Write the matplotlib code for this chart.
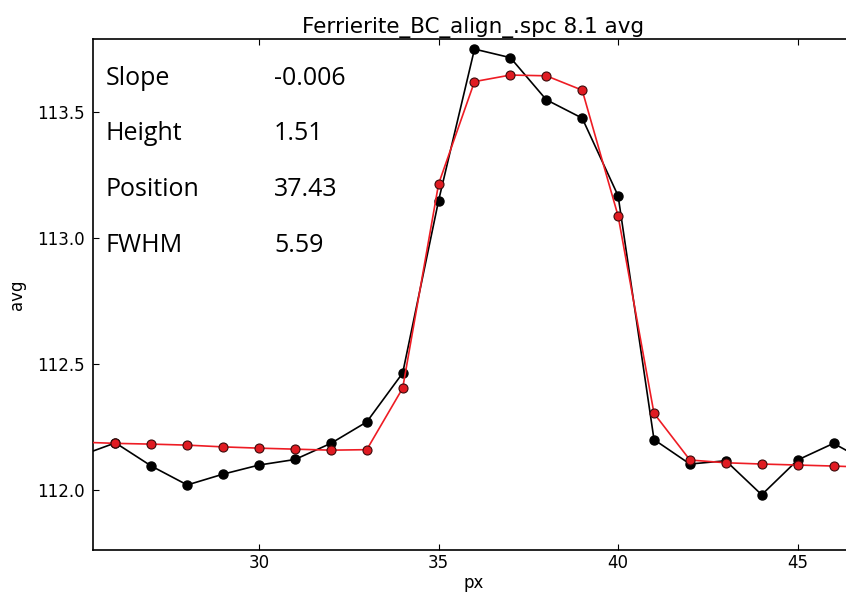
import matplotlib
matplotlib.use("Agg")
import matplotlib.pyplot as plt
import numpy as np

# pixel index
px = np.arange(25, 49)

# measured profile (black)
avg_data = [112.135, 112.187, 112.095, 112.02, 112.063, 112.099, 112.121, 112.185,
            112.27, 112.464, 113.148, 113.749, 113.715, 113.548, 113.475, 113.167,
            112.20, 112.103, 112.116, 111.981, 112.119, 112.185, 112.107, 112.10]

# fitted profile (red)
avg_fit = [112.19, 112.185, 112.182, 112.178, 112.171, 112.166, 112.162, 112.158,
           112.160, 112.404, 113.214, 113.62, 113.646, 113.643, 113.586, 113.087,
           112.304, 112.119, 112.108, 112.103, 112.099, 112.095, 112.09, 112.087]

fit_names = ["Slope", "Height", "Position", "FWHM"]
fit_values = ["-0.006", "1.51", "37.43", "5.59"]

fig = plt.figure(figsize=(8.46, 5.96), dpi=100)
# axes runs a bit past the right edge of the picture
ax = fig.add_axes([93 / 846, 46 / 596, (854 - 93) / 846, 511 / 596])

ax.plot(px, avg_data, color="black", lw=1.2, marker="o", ms=6.5,
        mfc="black", mec="black", zorder=2)
ax.plot(px, avg_fit, color="#ee1c24", lw=1.2, marker="o", ms=6.5,
        mfc="#e01b22", mec="#3a0a0a", mew=0.8, zorder=3)

ax.set_xlim(25.375, 46.57)
ax.set_ylim(111.762, 113.789)
ax.set_xticks([30, 35, 40, 45])
ax.set_yticks([112.0, 112.5, 113.0, 113.5])
ax.tick_params(direction="in", top=True, right=True, length=4, labelsize=12)
ax.tick_params(axis="x", pad=3)
ax.tick_params(axis="y", pad=6)
ax.set_xlabel("px", fontsize=12, labelpad=1)
ax.set_ylabel("avg", fontsize=12, labelpad=8)
ax.set_title("Ferrierite_BC_align_.spc 8.1 avg", fontsize=15.5, pad=4)
for s in ax.spines.values():
    s.set_linewidth(1.2)

for i in range(len(fit_names)):
    ypos = 85 + i * 55.5
    fig.text(106 / 846, 1 - ypos / 596, fit_names[i], fontsize=18, family="Open Sans",
             va="baseline", ha="left")
    fig.text(274 / 846, 1 - ypos / 596, fit_values[i], fontsize=18, family="Open Sans",
             va="baseline", ha="left")

fig.savefig("out.png", dpi=100)
